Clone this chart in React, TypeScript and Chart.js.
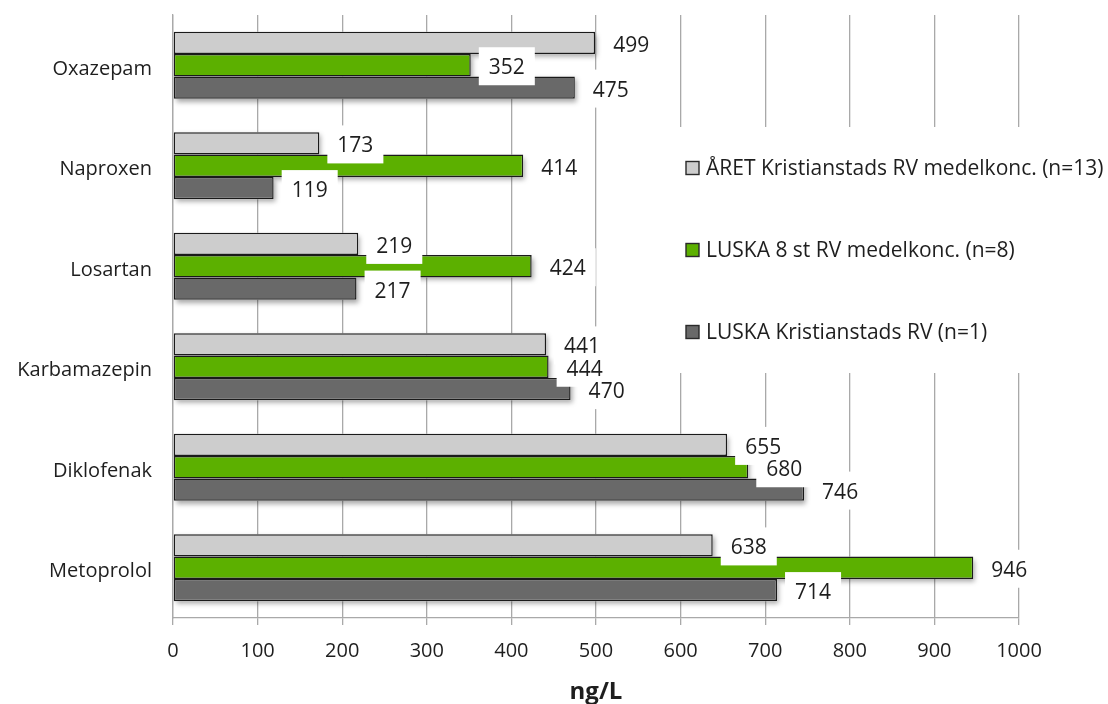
import { useEffect, useRef } from "react";
import { Chart, registerables } from "chart.js";

Chart.register(...registerables);

// Substances, top to bottom
const categories = ["Oxazepam", "Naproxen", "Losartan", "Karbamazepin", "Diklofenak", "Metoprolol"];

// Concentrations in ng/L
const aretValues = [499, 173, 219, 441, 655, 638];
const luska8Values = [352, 414, 424, 444, 680, 946];
const luskaKrValues = [475, 119, 217, 470, 746, 714];

const seriesNames = [
  "ÅRET Kristianstads RV medelkonc. (n=13)",
  "LUSKA 8 st RV medelkonc. (n=8)",
  "LUSKA Kristianstads RV (n=1)",
];
const seriesColors = ["#cdcdcd", "#5cb000", "#696969"];

const axisMin = 0;
const axisMax = 1000;
const axisStep = 100;
const axisTitle = "ng/L";

const FONT = "'Open Sans', 'DejaVu Sans', sans-serif";
const TEXT = "#1e1e1e";
const GRID = "#a9a9a9";

// soft drop shadow behind every bar
const shadowPlugin = {
  id: "barShadow",
  beforeDatasetsDraw(chart: any) {
    const ctx = chart.ctx;
    ctx.save();
    ctx.shadowColor = "rgba(0,0,0,0.35)";
    ctx.shadowBlur = 5;
    ctx.shadowOffsetX = 2;
    ctx.shadowOffsetY = 3;
    ctx.fillStyle = "#ffffff";
    chart.data.datasets.forEach((_: any, di: number) => {
      chart.getDatasetMeta(di).data.forEach((bar: any) => {
        const p = bar.getProps(["x", "y", "base", "height"], true);
        ctx.fillRect(p.base, p.y - p.height / 2, p.x - p.base, p.height);
      });
    });
    ctx.restore();
  },
};

// value labels on white boxes just past the bar ends
const valueLabelPlugin = {
  id: "valueLabels",
  afterDatasetsDraw(chart: any) {
    const ctx = chart.ctx;
    ctx.save();
    ctx.font = `21px ${FONT}`;
    ctx.textBaseline = "middle";
    ctx.textAlign = "left";
    const items: { text: string; x: number; y: number; w: number }[] = [];
    chart.data.datasets.forEach((ds: any, di: number) => {
      chart.getDatasetMeta(di).data.forEach((bar: any, i: number) => {
        const text = String(ds.data[i]);
        items.push({ text, x: bar.x + 18, y: bar.y, w: ctx.measureText(text).width });
      });
    });
    ctx.fillStyle = "#ffffff";
    items.forEach((it) => ctx.fillRect(it.x - 10, it.y - 18, it.w + 20, 38));
    ctx.fillStyle = TEXT;
    items.forEach((it) => ctx.fillText(it.text, it.x, it.y + 3));
    ctx.restore();
  },
};

// legend drawn over the right part of the plot on a white panel
const legendPlugin = {
  id: "panelLegend",
  afterDraw(chart: any) {
    const ctx = chart.ctx;
    const area = chart.chartArea;
    const left = area.left + 497;
    const top = 127;
    ctx.save();
    ctx.fillStyle = "#ffffff";
    ctx.fillRect(left, top, chart.width - left, 246);
    ctx.font = `21px ${FONT}`;
    ctx.textBaseline = "middle";
    ctx.textAlign = "left";
    chart.data.datasets.forEach((ds: any, di: number) => {
      const cy = top + 41 + di * 82;
      const sx = left + 16;
      ctx.fillStyle = ds.backgroundColor;
      ctx.fillRect(sx, cy - 6.5, 13, 13);
      ctx.strokeStyle = "#2a2a2a";
      ctx.lineWidth = 1.4;
      ctx.strokeRect(sx, cy - 6.5, 13, 13);
      ctx.fillStyle = TEXT;
      ctx.fillText(ds.label, sx + 20, cy + 1);
    });
    ctx.restore();
  },
};

export default function App() {
  const canvasRef = useRef<HTMLCanvasElement | null>(null);

  useEffect(() => {
    if (!canvasRef.current) return;
    const seriesValues = [aretValues, luska8Values, luskaKrValues];
    const chart = new Chart(canvasRef.current, {
      type: "bar",
      data: {
        labels: categories,
        datasets: seriesValues.map((values, i) => ({
          label: seriesNames[i],
          data: values,
          backgroundColor: seriesColors[i],
          borderColor: "#1a1a1a",
          borderWidth: 1.5,
          borderSkipped: false,
          barPercentage: 1,
          categoryPercentage: 0.667,
        })),
      },
      options: {
        indexAxis: "y",
        animation: false,
        responsive: true,
        maintainAspectRatio: false,
        devicePixelRatio: 1,
        layout: { padding: { top: 15, right: 89, left: 0, bottom: 0 } },
        plugins: {
          legend: { display: false },
          tooltip: { enabled: false },
        },
        scales: {
          x: {
            type: "linear",
            min: axisMin,
            max: axisMax,
            ticks: {
              stepSize: axisStep,
              color: TEXT,
              font: { family: FONT, size: 20 },
              padding: 14,
              callback: (v: any) => String(v),
            },
            grid: { color: GRID, lineWidth: 1.3, tickLength: 7, drawTicks: true },
            border: { display: true, color: GRID, width: 1.3 },
            title: {
              display: true,
              text: axisTitle,
              color: TEXT,
              font: { family: FONT, size: 24, weight: "bold", lineHeight: 1 },
              padding: 0,
            },
            afterFit(scale: any) {
              scale.height = 86;
              scale.paddingLeft = 0;
              scale.paddingRight = 0;
            },
          },
          y: {
            ticks: {
              color: TEXT,
              font: { family: FONT, size: 20 },
              padding: 21,
              labelOffset: 4,
            },
            grid: { display: false, drawTicks: false },
            border: { display: true, color: GRID, width: 1.3 },
            afterFit(scale: any) {
              scale.width = 173;
              scale.paddingTop = 0;
              scale.paddingBottom = 0;
            },
          },
        },
      },
      plugins: [shadowPlugin, valueLabelPlugin, legendPlugin],
    } as any);
    return () => chart.destroy();
  }, []);

  return (
    <div style={{ position: "fixed", left: 0, top: 0, width: 1108, height: 704, background: "#ffffff" }}>
      <canvas ref={canvasRef} />
    </div>
  );
}
